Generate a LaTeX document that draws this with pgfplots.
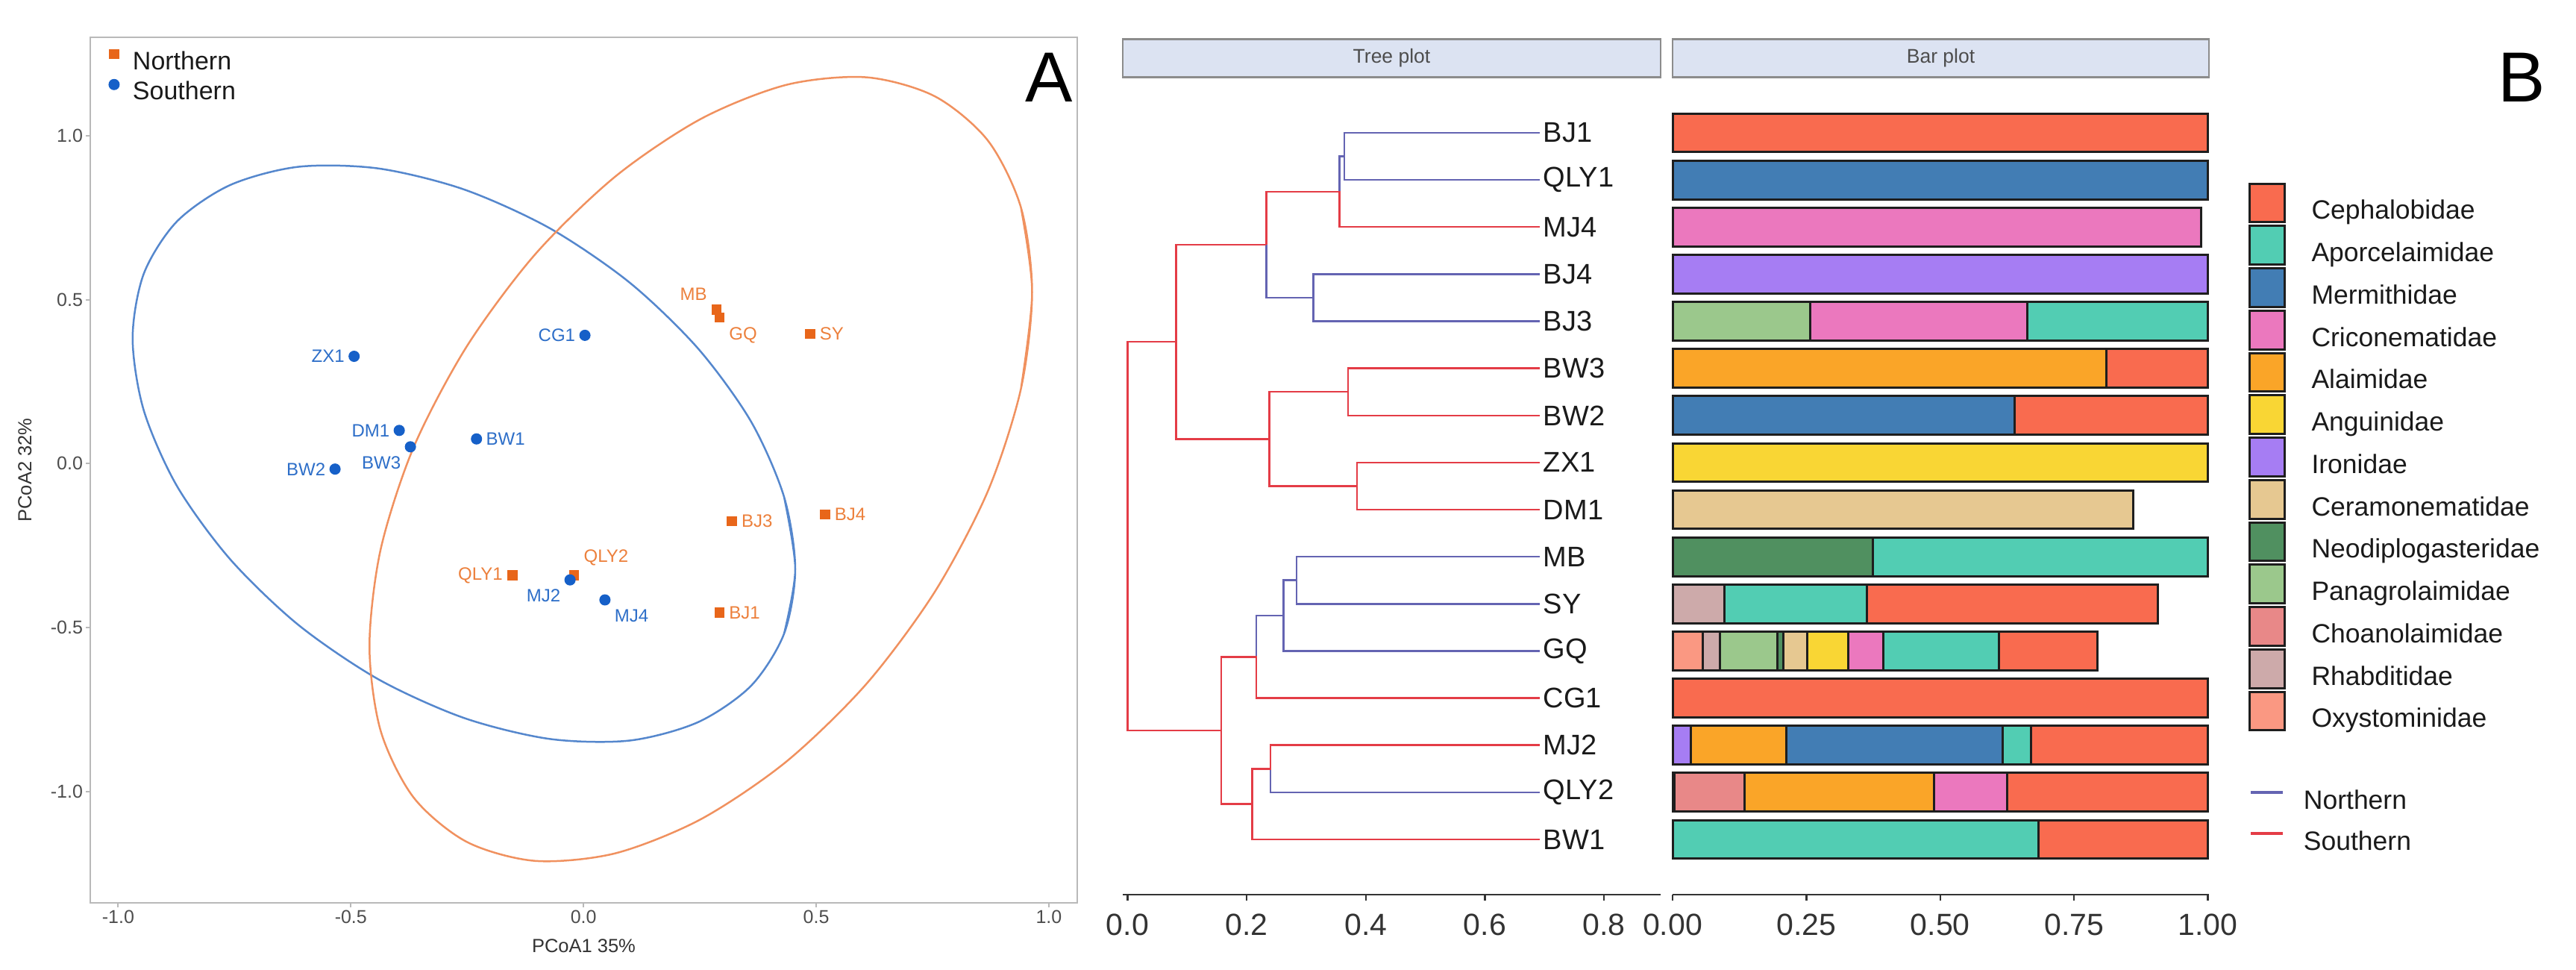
\documentclass[border=0pt]{standalone}
\usepackage{fontspec}
\setmainfont{Liberation Sans}
\usepackage{pgfplots}
\usepackage{pgfplotstable}
\pgfplotsset{compat=1.18}

\definecolor{ptorange}{RGB}{232,102,26}
\definecolor{ptblue}{RGB}{22,96,200}
\definecolor{elorange}{RGB}{240,145,95}
\definecolor{elblue}{RGB}{85,135,205}
\definecolor{laborange}{RGB}{236,128,60}
\definecolor{labblue}{RGB}{45,110,200}
\definecolor{framegray}{RGB}{185,185,185}
\definecolor{tickgray}{RGB}{77,77,77}
\definecolor{labgray}{RGB}{51,51,51}
\definecolor{legtext}{RGB}{26,26,26}
\definecolor{treered}{RGB}{228,60,70}
\definecolor{treeblue}{RGB}{100,100,178}
\definecolor{stripfill}{RGB}{220,227,242}
\definecolor{stripline}{RGB}{140,140,140}
\definecolor{axisdark}{RGB}{51,51,51}
\definecolor{barline}{RGB}{30,30,30}
% families
\definecolor{cCeph}{RGB}{249,107,79}
\definecolor{cApor}{RGB}{82,205,179}
\definecolor{cMerm}{RGB}{66,125,180}
\definecolor{cCric}{RGB}{235,120,190}
\definecolor{cAlai}{RGB}{250,165,40}
\definecolor{cAngu}{RGB}{249,214,52}
\definecolor{cIron}{RGB}{166,125,243}
\definecolor{cCera}{RGB}{230,200,145}
\definecolor{cNeo}{RGB}{80,144,96}
\definecolor{cPana}{RGB}{155,200,140}
\definecolor{cChoa}{RGB}{232,136,136}
\definecolor{cRhab}{RGB}{205,170,170}
\definecolor{cOxy}{RGB}{250,152,130}

\pgfplotsset{
  fam/.style={fill=#1, draw=barline, line width=0.6pt,
    legend image code/.code={\draw[##1] (0pt,-2.63pt) rectangle (9.4pt,7.73pt);}},
  treeleg/.style={legend image code/.code={\draw[##1,line width=0.8pt] (0pt,2.55pt) -- (8.6pt,2.55pt); \path[draw=none,fill=none] (0pt,-2.55pt) rectangle (8.6pt,7.65pt);}},
}

% rows top to bottom: BJ1 QLY1 MJ4 BJ4 BJ3 BW3 BW2 ZX1 DM1 MB SY GQ CG1 MJ2 QLY2 BW1
\pgfplotstableread{
row Oxy Rhab Choa Pana Neo Cera Iron Angu Alai Cric Merm Apor Ceph
-1 0 0 0 0 0 0 0 0 0 0 0 0 1.000
-2 0 0 0 0 0 0 0 0 0 0 1.000 0 0
-3 0 0 0 0 0 0 0 0 0 0.987 0 0 0
-4 0 0 0 0 0 0 1.000 0 0 0 0 0 0
-5 0 0 0 0.257 0 0 0 0 0 0.406 0 0.337 0
-6 0 0 0 0 0 0 0 0 0.811 0 0 0 0.189
-7 0 0 0 0 0 0 0 0 0 0 0.639 0 0.361
-8 0 0 0 0 0 0 0 1.000 0 0 0 0 0
-9 0 0 0 0 0 0.861 0 0 0 0 0 0 0
-10 0 0 0 0 0.374 0 0 0 0 0 0 0.626 0
-11 0 0.097 0 0 0 0 0 0 0 0 0 0.266 0.544
-12 0.056 0.033 0 0.107 0.011 0.045 0 0.076 0 0.065 0 0.216 0.184
-13 0 0 0 0 0 0 0 0 0 0 0 0 1.000
-14 0 0 0 0 0 0 0.034 0 0.178 0 0.405 0.052 0.331
-15 0.004 0 0.131 0 0 0 0 0 0.353 0.137 0 0 0.375
-16 0 0 0 0 0 0 0 0 0 0 0 0.683 0.317
}\bardata

\begin{document}
\begin{tikzpicture}[x=1pt,y=1pt]
\path[use as bounding box] (0,0) rectangle (690.6,259.8);

% ---------------- A: PCoA ----------------
\begin{axis}[
  at={(24.2pt,17.8pt)}, anchor=south west,
  scale only axis, width=264.6pt, height=232pt,
  xmin=-1.06, xmax=1.061, ymin=-1.34, ymax=1.30,
  axis line style={draw=framegray, line width=0.5pt},
  xtick={-1,-0.5,0,0.5,1}, xticklabels={-1.0,-0.5,0.0,0.5,1.0},
  ytick={-1,-0.5,0,0.5,1}, yticklabels={-1.0,-0.5,0.0,0.5,1.0},
  xtick pos=left, ytick pos=left,
  tick align=outside, major tick length=1.2pt,
  every tick/.style={draw=framegray, line width=0.4pt},
  tick label style={font=\fontsize{5}{6}\selectfont, text=tickgray, inner sep=0.6pt},
  xlabel={PCoA1 35\%}, ylabel={PCoA2 32\%},
  label style={font=\fontsize{5.1}{6}\selectfont, text=labgray},
  ylabel shift=1pt,
  legend style={at={(rel axis cs:0.0185,0.987)}, anchor=north west, draw=none, fill=none,
    inner sep=0pt, row sep=0.7pt, font=\fontsize{6.8}{6.8}\selectfont, text=legtext,
    nodes={inner sep=0.5pt}, /tikz/every odd column/.append style={column sep=3.2pt}},
  legend cell align=left,
  legend image code/.code={\draw[#1] plot coordinates {(1.3pt,2.4pt)};},
]
\addplot[elblue, line width=0.5pt, smooth, mark=none, forget plot] coordinates {
(0.431,-0.102) (0.455,-0.322) (0.431,-0.519) (0.360,-0.678) (0.246,-0.789)
(0.099,-0.845) (-0.073,-0.840) (-0.257,-0.776) (-0.441,-0.658) (-0.613,-0.492)
(-0.760,-0.291) (-0.874,-0.068) (-0.945,0.162) (-0.969,0.382) (-0.945,0.579)
(-0.874,0.738) (-0.760,0.849) (-0.613,0.905) (-0.441,0.900) (-0.257,0.836)
(-0.073,0.718) (0.099,0.552) (0.246,0.351) (0.360,0.128) (0.431,-0.102)
(0.455,-0.322) (0.431,-0.519)};
\addplot[elorange, line width=0.5pt, smooth, mark=none, forget plot] coordinates {
(0.940,0.781) (0.964,0.523) (0.940,0.228) (0.869,-0.084) (0.755,-0.391)
(0.608,-0.672) (0.436,-0.909) (0.252,-1.085) (0.068,-1.189) (-0.104,-1.212)
(-0.251,-1.154) (-0.365,-1.019) (-0.436,-0.815) (-0.460,-0.557) (-0.436,-0.262)
(-0.365,0.050) (-0.251,0.357) (-0.104,0.638) (0.068,0.875) (0.252,1.051)
(0.436,1.155) (0.608,1.178) (0.755,1.120) (0.869,0.985) (0.940,0.781)
(0.964,0.523) (0.940,0.228)};

\addplot[only marks, mark=square*, mark size=1.15pt, color=ptorange] table {
x y
0.286 0.469
0.292 0.445
0.487 0.395
0.319 -0.176
0.519 -0.155
-0.153 -0.341
-0.020 -0.341
0.292 -0.455
};
\addlegendentry{Northern}
\addplot[only marks, mark=*, mark size=1.3pt, color=ptblue] table {
x y
0.003 0.391
-0.493 0.327
-0.396 0.101
-0.372 0.051
-0.230 0.075
-0.534 -0.017
-0.029 -0.355
0.046 -0.416
};
\addlegendentry{Southern}

\addplot[only marks, mark=*, mark size=0pt, mark options={draw=none,fill=none}, forget plot,
  nodes near coords, point meta=explicit symbolic,
  visualization depends on={value \thisrow{anc}\as\myanc},
  nodes near coords style={anchor=\myanc, text=laborange, inner sep=2.4pt,
    font=\fontsize{4.8}{5}\selectfont}]
  table[col sep=comma, meta=lab] {
x,y,lab,anc
0.286,0.469,MB,south east
0.292,0.445,GQ,north west
0.487,0.395,SY,west
0.319,-0.176,BJ3,west
0.519,-0.155,BJ4,west
-0.153,-0.341,QLY1,east
-0.020,-0.341,QLY2,south west
0.292,-0.455,BJ1,west
};
\addplot[only marks, mark=*, mark size=0pt, mark options={draw=none,fill=none}, forget plot,
  nodes near coords, point meta=explicit symbolic,
  visualization depends on={value \thisrow{anc}\as\myanc},
  nodes near coords style={anchor=\myanc, text=labblue, inner sep=2.4pt,
    font=\fontsize{4.8}{5}\selectfont}]
  table[col sep=comma, meta=lab] {
x,y,lab,anc
0.003,0.391,CG1,east
-0.493,0.327,ZX1,east
-0.396,0.101,DM1,east
-0.372,0.051,BW3,north east
-0.230,0.075,BW1,west
-0.534,-0.017,BW2,east
-0.029,-0.355,MJ2,north east
0.046,-0.416,MJ4,north west
};
\end{axis}

% ---------------- B: tree ----------------
\begin{axis}[
  at={(301pt,20pt)}, anchor=south west,
  scale only axis, width=144.2pt, height=217.4pt,
  xmin=-0.008, xmax=0.895, ymin=-17.173, ymax=0.0455,
  axis x line*=bottom, axis y line=none, x axis line style={-, draw=axisdark, line width=0.55pt},
  ytick=\empty,
  xtick={0,0.2,0.4,0.6,0.8}, xticklabels={0.0,0.2,0.4,0.6,0.8},
  tick align=outside, major tick length=1.6pt,
  every tick/.style={draw=axisdark, line width=0.5pt},
  tick label style={font=\fontsize{8.2}{9}\selectfont, text=labgray},
  unbounded coords=jump, clip=false,
  legend style={at={(axis description cs:2.0929,0.1500)}, anchor=north west, draw=none, fill=none,
    inner sep=0pt, row sep=0pt, font=\fontsize{7.1}{7.1}\selectfont, text=legtext,
    nodes={inner sep=0pt}, /tikz/every odd column/.append style={column sep=5.2pt}},
  legend cell align=left,
]
\addplot[treeblue, line width=0.5pt, mark=none, treeleg] coordinates {
(0.692,-1) (0.364,-1) (0.364,-2) (0.692,-2) (nan,nan)
(0.356,-2.25) (0.356,-1.5) (0.364,-1.5) (nan,nan)
(0.692,-4) (0.312,-4) (0.312,-5) (0.692,-5) (nan,nan)
(0.233,-3.375) (0.233,-4.5) (0.312,-4.5) (nan,nan)
(0.692,-10) (0.284,-10) (0.284,-11) (0.692,-11) (nan,nan)
(0.284,-10.5) (0.262,-10.5) (0.262,-12) (0.692,-12) (nan,nan)
(0.216,-12.125) (0.216,-11.25) (0.262,-11.25) (nan,nan)
(0.240,-14.5) (0.240,-15) (0.692,-15)
};
\addlegendentry{Northern}
\addplot[treered, line width=0.5pt, mark=none, treeleg] coordinates {
(0.233,-3.375) (0.233,-2.25) (0.356,-2.25) (0.356,-3) (0.692,-3) (nan,nan)
(0.0815,-5.4375) (0.0815,-3.375) (0.233,-3.375) (nan,nan)
(0.692,-6) (0.370,-6) (0.370,-7) (0.692,-7) (nan,nan)
(0.692,-8) (0.385,-8) (0.385,-9) (0.692,-9) (nan,nan)
(0.370,-6.5) (0.238,-6.5) (0.238,-8.5) (0.385,-8.5) (nan,nan)
(0.0815,-5.4375) (0.0815,-7.5) (0.238,-7.5) (nan,nan)
(0.0815,-5.4375) (0,-5.4375) (0,-13.6875) (0.157,-13.6875) (nan,nan)
(0.157,-13.6875) (0.157,-12.125) (0.216,-12.125) (0.216,-13) (0.692,-13) (nan,nan)
(0.692,-14) (0.240,-14) (0.240,-14.5) (0.209,-14.5) (0.209,-16) (0.692,-16) (nan,nan)
(0.157,-13.6875) (0.157,-15.25) (0.209,-15.25)
};
\addlegendentry{Southern}
\addplot[only marks, mark=*, mark size=0pt, mark options={draw=none,fill=none}, forget plot,
  nodes near coords, point meta=explicit symbolic,
  nodes near coords style={anchor=west, text=legtext, inner sep=0.8pt,
    font=\fontsize{7.6}{8}\selectfont}]
  table[meta=lab] {
x y lab
0.692 -1 BJ1
0.692 -2 QLY1
0.692 -3 MJ4
0.692 -4 BJ4
0.692 -5 BJ3
0.692 -6 BW3
0.692 -7 BW2
0.692 -8 ZX1
0.692 -9 DM1
0.692 -10 MB
0.692 -11 SY
0.692 -12 GQ
0.692 -13 CG1
0.692 -14 MJ2
0.692 -15 QLY2
0.692 -16 BW1
};
\end{axis}

% ---------------- B: bars ----------------
\begin{axis}[
  at={(448.4pt,20pt)}, anchor=south west,
  scale only axis, width=143.8pt, height=217.4pt,
  xmin=0, xmax=1.002, ymin=-17.173, ymax=0.0455,
  axis x line*=bottom, axis y line=none, x axis line style={-, draw=axisdark, line width=0.55pt},
  ytick=\empty,
  xbar stacked, bar width=0.82,
  xtick={0,0.25,0.5,0.75,1}, xticklabels={0.00,0.25,0.50,0.75,1.00},
  tick align=outside, major tick length=1.6pt,
  every tick/.style={draw=axisdark, line width=0.5pt},
  tick label style={font=\fontsize{8.2}{9}\selectfont, text=labgray},
  clip=false,
  legend style={at={(axis description cs:1.0723,0.879)}, anchor=north west, draw=none, fill=none,
    inner sep=0pt, row sep=0pt, font=\fontsize{7.1}{7.1}\selectfont, text=legtext,
    nodes={inner sep=0pt}, /tikz/every odd column/.append style={column sep=6.9pt}},
  legend cell align=left,
  reverse legend,
]
\addplot[fam=cOxy] table[x=Oxy,y=row] {\bardata}; \addlegendentry{Oxystominidae}
\addplot[fam=cRhab] table[x=Rhab,y=row] {\bardata}; \addlegendentry{Rhabditidae}
\addplot[fam=cChoa] table[x=Choa,y=row] {\bardata}; \addlegendentry{Choanolaimidae}
\addplot[fam=cPana] table[x=Pana,y=row] {\bardata}; \addlegendentry{Panagrolaimidae}
\addplot[fam=cNeo] table[x=Neo,y=row] {\bardata}; \addlegendentry{Neodiplogasteridae}
\addplot[fam=cCera] table[x=Cera,y=row] {\bardata}; \addlegendentry{Ceramonematidae}
\addplot[fam=cIron] table[x=Iron,y=row] {\bardata}; \addlegendentry{Ironidae}
\addplot[fam=cAngu] table[x=Angu,y=row] {\bardata}; \addlegendentry{Anguinidae}
\addplot[fam=cAlai] table[x=Alai,y=row] {\bardata}; \addlegendentry{Alaimidae}
\addplot[fam=cCric] table[x=Cric,y=row] {\bardata}; \addlegendentry{Criconematidae}
\addplot[fam=cMerm] table[x=Merm,y=row] {\bardata}; \addlegendentry{Mermithidae}
\addplot[fam=cApor] table[x=Apor,y=row] {\bardata}; \addlegendentry{Aporcelaimidae}
\addplot[fam=cCeph] table[x=Ceph,y=row] {\bardata}; \addlegendentry{Cephalobidae}
\end{axis}

% facet strips
\draw[draw=stripline, fill=stripfill, line width=0.5pt] (301,239.1) rectangle (445.2,249.3);
\node[font=\fontsize{5.3}{6}\selectfont, text=tickgray] at (373.1,244.2) {Tree plot};
\draw[draw=stripline, fill=stripfill, line width=0.5pt] (448.4,239.1) rectangle (592.2,249.3);
\node[font=\fontsize{5.3}{6}\selectfont, text=tickgray] at (520.3,244.2) {Bar plot};

% panel letters
\node[font=\fontsize{19}{19}\selectfont, anchor=base, inner sep=0pt] at (281.2,232.4) {A};
\node[font=\fontsize{19}{19}\selectfont, anchor=base, inner sep=0pt] at (676,232.4) {B};
\end{tikzpicture}
\end{document}
